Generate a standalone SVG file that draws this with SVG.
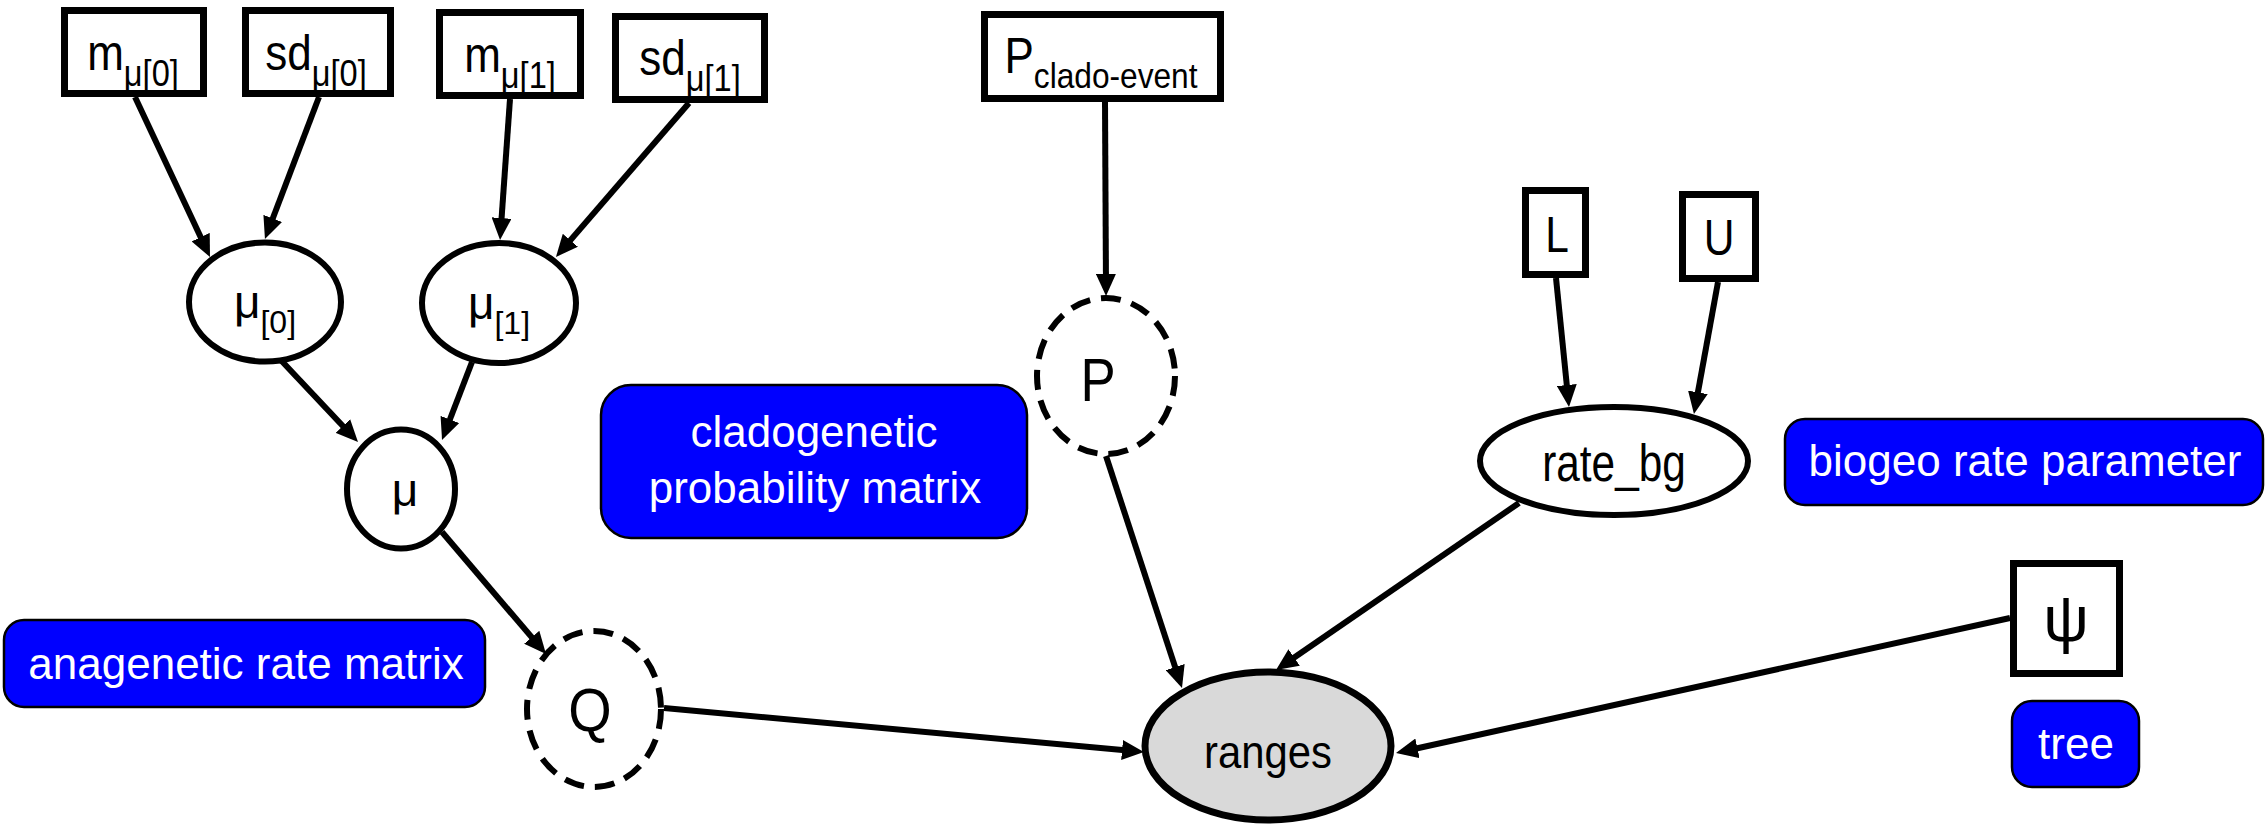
<svg xmlns="http://www.w3.org/2000/svg" width="2266" height="833" viewBox="0 0 2266 833">
<style>
text{font-family:"Liberation Sans",Arial,sans-serif;fill:#000}
.box{fill:#fff;stroke:#000;stroke-width:7}
.node{fill:#fff;stroke:#000;stroke-width:6}
.dash{fill:#fff;stroke:#000;stroke-width:6;stroke-dasharray:20 11}
.lab{fill:#0000ff;stroke:#000;stroke-width:2.5}
.lt{fill:#fff;font-size:44px;text-anchor:middle}
.t{font-size:46px;text-anchor:middle}
.tb{font-size:50px;text-anchor:middle}
.s{font-size:37px}
.s2{font-size:32px}
.edge{stroke:#000;stroke-width:6;fill:none;marker-end:url(#ah)}
</style>
<defs>
<marker id="ah" markerUnits="userSpaceOnUse" markerWidth="22" markerHeight="20" refX="14" refY="10" orient="auto">
<path d="M0,0 L22,10 L0,20 Z" fill="#000"/>
</marker>
</defs>
<rect width="2266" height="833" fill="#fff"/>
<g id="connectors">
<line class="edge" x1="135" y1="97" x2="206.6" y2="249.8"/>
<line class="edge" x1="319" y1="97" x2="267.8" y2="231.5"/>
<line class="edge" x1="510" y1="99" x2="500.6" y2="232"/>
<line class="edge" x1="689" y1="103" x2="561.2" y2="250.9"/>
<line class="edge" x1="276" y1="355" x2="352.5" y2="436.2"/>
<line class="edge" x1="472" y1="362" x2="444.9" y2="432.5"/>
<line class="edge" x1="442" y1="532" x2="540.8" y2="647.9"/>
<line class="edge" x1="664" y1="708" x2="1136" y2="751.3"/>
<line class="edge" x1="1105" y1="102" x2="1106" y2="288"/>
<line class="edge" x1="1106" y1="456" x2="1179.5" y2="680.4"/>
<line class="edge" x1="1556" y1="278" x2="1568.2" y2="399"/>
<line class="edge" x1="1718" y1="282" x2="1695.4" y2="406.1"/>
<line class="edge" x1="1519" y1="503" x2="1282.6" y2="665.5"/>
<line class="edge" x1="2010" y1="618" x2="1403.8" y2="751.3"/>
</g>
<g id="m_mu0"><rect class="box" x="64.5" y="10.5" width="139" height="83"/><text class="tb" transform="translate(133,70) scale(0.88,1)">m<tspan class="s" dy="16">μ[0]</tspan></text></g>
<g id="sd_mu0"><rect class="box" x="245.5" y="10.5" width="145" height="83"/><text class="tb" transform="translate(316,70) scale(0.88,1)">sd<tspan class="s" dy="16">μ[0]</tspan></text></g>
<g id="m_mu1"><rect class="box" x="439.5" y="12.5" width="141" height="83"/><text class="tb" transform="translate(510,72) scale(0.88,1)">m<tspan class="s" dy="16">μ[1]</tspan></text></g>
<g id="sd_mu1"><rect class="box" x="615.5" y="16.5" width="149" height="83"/><text class="tb" transform="translate(690,75) scale(0.88,1)">sd<tspan class="s" dy="16">μ[1]</tspan></text></g>
<g id="p_clado"><rect class="box" x="984.5" y="14.5" width="236" height="84"/><text class="tb" transform="translate(1101,73) scale(0.88,1)">P<tspan style="font-size:36px" dy="15">clado-event</tspan></text></g>
<g id="mu0"><ellipse class="node" cx="265" cy="302" rx="76" ry="59.5"/><text class="t" x="265" y="318">μ<tspan class="s2" dy="15">[0]</tspan></text></g>
<g id="mu1"><ellipse class="node" cx="499" cy="303" rx="77" ry="60"/><text class="t" x="499" y="319">μ<tspan class="s2" dy="15">[1]</tspan></text></g>
<g id="mu"><ellipse class="node" cx="401" cy="489" rx="54" ry="59.5"/><text class="t" x="405" y="506">μ</text></g>
<g id="Q"><ellipse class="dash" cx="594" cy="709" rx="67" ry="78"/><text class="t" transform="translate(590,731) scale(0.9,1)" style="font-size:62px">Q</text></g>
<g id="P"><ellipse class="dash" cx="1106" cy="376" rx="69" ry="78"/><text class="t" transform="translate(1098,401) scale(0.85,1)" style="font-size:62px">P</text></g>
<g id="ranges"><ellipse cx="1268" cy="746" rx="123" ry="74" fill="#d9d9d9" stroke="#000" stroke-width="7"/><text class="t" transform="translate(1268,768) scale(0.89,1)" style="font-size:47px">ranges</text></g>
<g id="L"><rect class="box" x="1525.5" y="190.5" width="60" height="84"/><text class="tb" transform="translate(1557,252) scale(0.85,1)">L</text></g>
<g id="U"><rect class="box" x="1682.5" y="194.5" width="73" height="84"/><text class="tb" transform="translate(1719,255) scale(0.85,1)">U</text></g>
<g id="rate_bg"><ellipse class="node" cx="1614" cy="461" rx="134" ry="54"/><text class="t" transform="translate(1614,481) scale(0.83,1)" style="font-size:51px">rate_bg</text></g>
<g id="psi"><rect class="box" x="2013.5" y="563.5" width="106" height="110"/><text class="t" x="2066" y="641" style="font-size:64px">ψ</text></g>
<g id="label_clado"><rect class="lab" x="601" y="385" width="426" height="153" rx="30"/><text class="lt" x="814" y="447">cladogenetic</text><text class="lt" x="815" y="503">probability matrix</text></g>
<g id="label_ana"><rect class="lab" x="4" y="620" width="481" height="87" rx="20"/><text class="lt" x="246" y="679">anagenetic rate matrix</text></g>
<g id="label_biogeo"><rect class="lab" x="1785" y="419" width="478" height="86" rx="20"/><text class="lt" x="2025" y="476">biogeo rate parameter</text></g>
<g id="label_tree"><rect class="lab" x="2012" y="701" width="127" height="86" rx="20"/><text class="lt" x="2076" y="759">tree</text></g>
</svg>
